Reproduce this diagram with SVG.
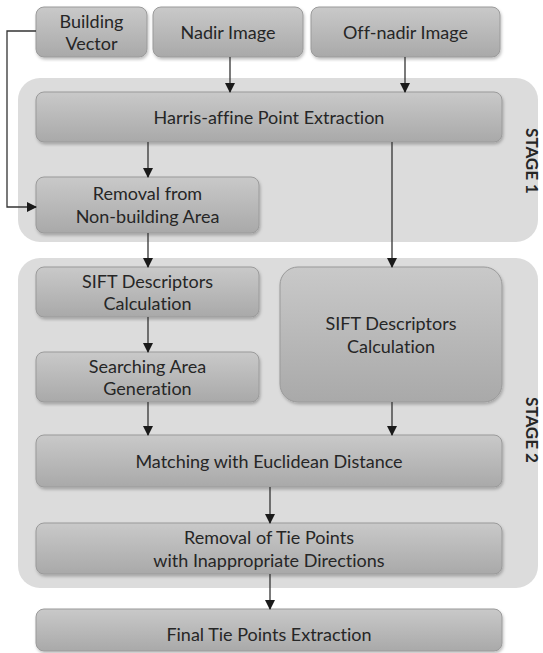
<svg xmlns="http://www.w3.org/2000/svg" width="543" height="653" viewBox="0 0 543 653">
<defs>
<linearGradient id="g" x1="0" y1="0" x2="0" y2="1">
<stop offset="0" stop-color="#c9c9c9"/>
<stop offset="1" stop-color="#a9a9a9"/>
</linearGradient>
<filter id="sh" x="-5%" y="-5%" width="110%" height="115%">
<feDropShadow dx="1" dy="2" stdDeviation="1.5" flood-color="#000" flood-opacity="0.25"/>
</filter>
<marker id="ah" markerWidth="10" markerHeight="10" refX="9" refY="5" orient="auto" markerUnits="userSpaceOnUse">
<path d="M0,0 L10,5 L0,10 z" fill="#1a1a1a"/>
</marker>
</defs>
<style>
.stage{fill:#dcdcdc;}
.box{fill:url(#g);stroke:#9a9a9a;stroke-width:1;filter:url(#sh);}
.t{font-family:Lato,"Open Sans",sans-serif;font-size:18px;fill:#262626;text-anchor:middle;dominant-baseline:central;font-variant-ligatures:none;}
.st{font-family:Lato,"Open Sans",sans-serif;font-size:17px;font-weight:bold;fill:#262626;text-anchor:middle;dominant-baseline:central;}
.c{fill:none;stroke:#333;stroke-width:1.3;}
</style>
<rect class="stage" x="18" y="78" width="520" height="164" rx="22"/>
<rect class="stage" x="18" y="258" width="520" height="330" rx="22"/>
<text class="st" transform="translate(532,161) rotate(90)">STAGE 1</text>
<text class="st" transform="translate(532,430) rotate(90)">STAGE 2</text>

<g id="building-vector"><rect class="box" x="36" y="7" width="111" height="50" rx="8"/><text class="t" x="91.5" y="21">Building</text><text class="t" x="91.5" y="43">Vector</text></g>
<g id="nadir-image"><rect class="box" x="153" y="7" width="150" height="50" rx="8"/><text class="t" x="228" y="32">Nadir Image</text></g>
<g id="off-nadir-image"><rect class="box" x="311" y="7" width="189" height="50" rx="8"/><text class="t" x="405.5" y="32">Off-nadir Image</text></g>
<g id="harris"><rect class="box" x="36" y="92" width="466" height="50" rx="8"/><text class="t" x="269" y="117">Harris-affine Point Extraction</text></g>
<g id="removal-nonbuilding"><rect class="box" x="36" y="177" width="223" height="56" rx="8"/><text class="t" x="147.5" y="193">Removal from</text><text class="t" x="147.5" y="216">Non-building Area</text></g>
<g id="sift-left"><rect class="box" x="36" y="267" width="223" height="50" rx="8"/><text class="t" x="147.5" y="281">SIFT Descriptors</text><text class="t" x="147.5" y="303">Calculation</text></g>
<g id="searching-area"><rect class="box" x="36" y="352" width="223" height="50" rx="8"/><text class="t" x="147.5" y="366">Searching Area</text><text class="t" x="147.5" y="388">Generation</text></g>
<g id="sift-right"><rect class="box" x="280" y="267" width="222" height="135" rx="18"/><text class="t" x="391" y="323">SIFT Descriptors</text><text class="t" x="391" y="346">Calculation</text></g>
<g id="matching"><rect class="box" x="36" y="435" width="466" height="52" rx="8"/><text class="t" x="269" y="461">Matching with Euclidean Distance</text></g>
<g id="removal-tie"><rect class="box" x="36" y="523" width="466" height="51" rx="8"/><text class="t" x="269" y="537">Removal of Tie Points</text><text class="t" x="269" y="560">with Inappropriate Directions</text></g>
<g id="final"><rect class="box" x="36" y="609" width="466" height="42" rx="8"/><text class="t" x="269" y="634">Final Tie Points Extraction</text></g>

<g id="connectors">
<path class="c" d="M230,57 V92" marker-end="url(#ah)"/>
<path class="c" d="M405,57 V92" marker-end="url(#ah)"/>
<path class="c" d="M148,142 V177" marker-end="url(#ah)"/>
<path class="c" d="M36,31 H7 V207 H36" marker-end="url(#ah)"/>
<path class="c" d="M392,142 V267" marker-end="url(#ah)"/>
<path class="c" d="M148,233 V267" marker-end="url(#ah)"/>
<path class="c" d="M148,317 V352" marker-end="url(#ah)"/>
<path class="c" d="M148,402 V435" marker-end="url(#ah)"/>
<path class="c" d="M392,402 V435" marker-end="url(#ah)"/>
<path class="c" d="M270,487 V523" marker-end="url(#ah)"/>
<path class="c" d="M270,574 V609" marker-end="url(#ah)"/>
</g>
</svg>
